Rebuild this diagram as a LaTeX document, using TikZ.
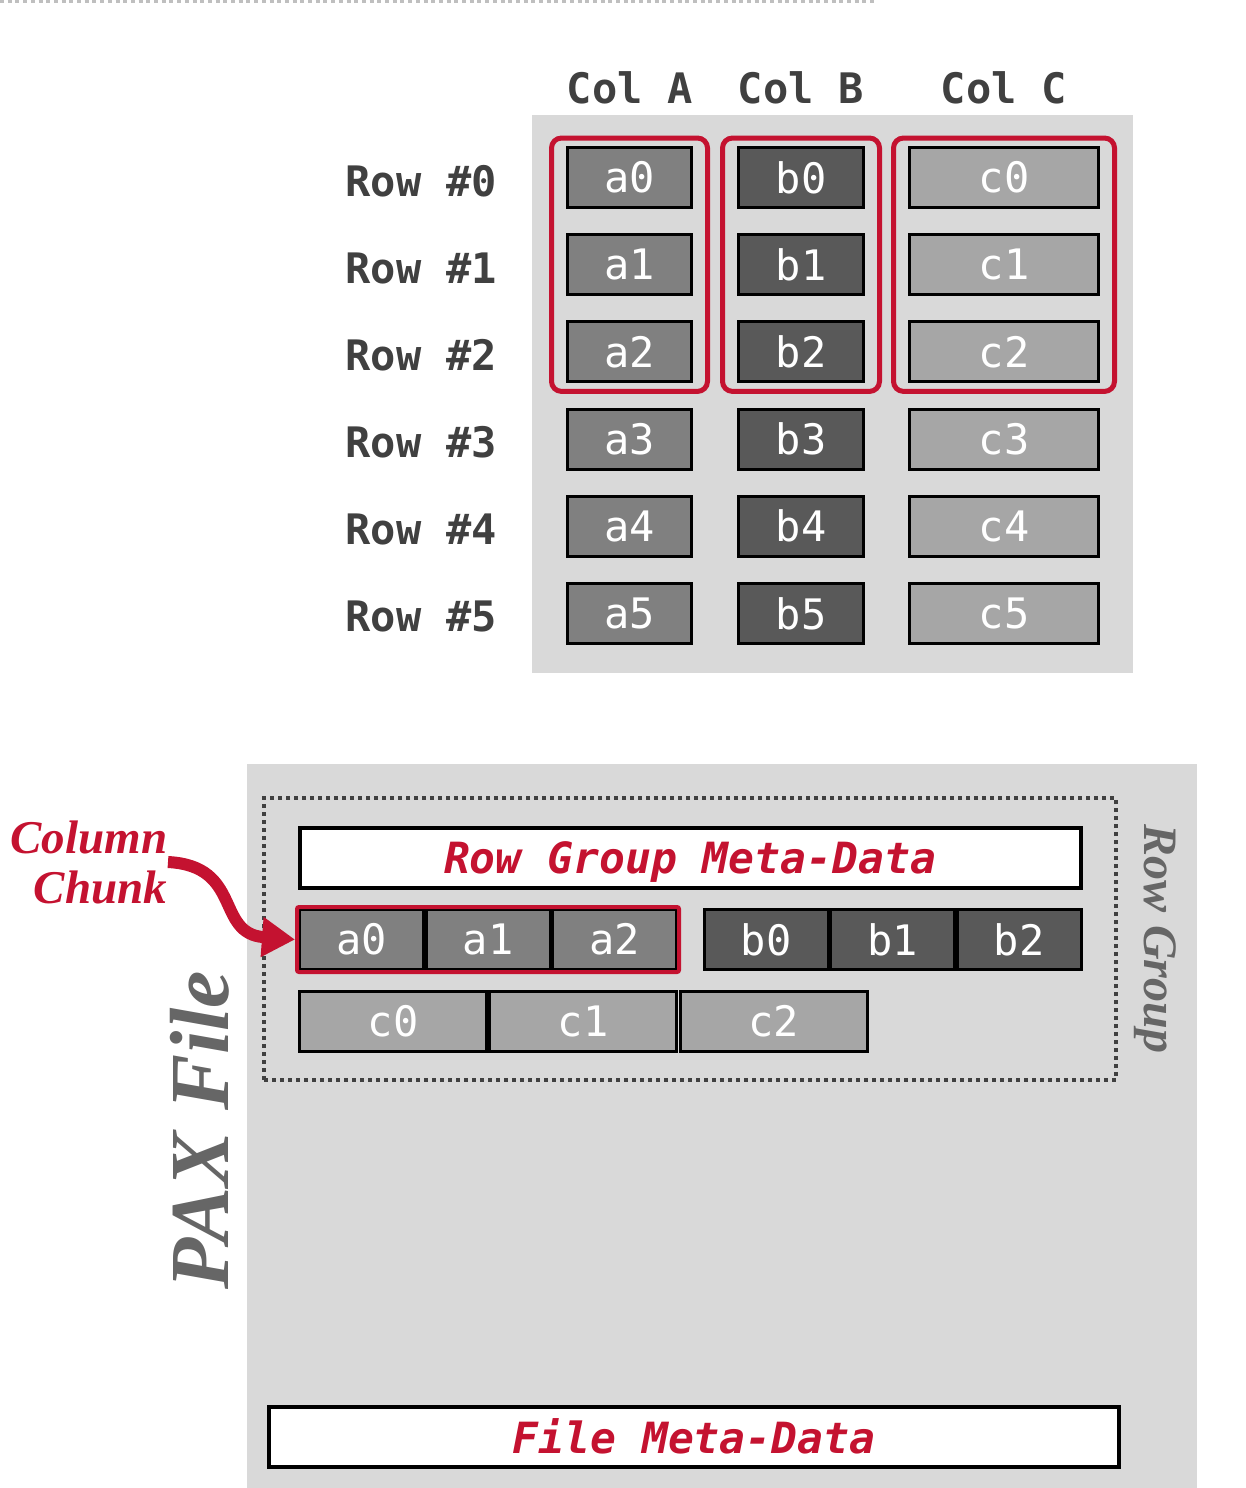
\documentclass[tikz,border=0pt]{standalone}
\usepackage{fontspec}
\setmonofont{DejaVu Sans Mono}
\newfontfamily\paxserif{Liberation Serif}
\usetikzlibrary{arrows.meta,fit}

\definecolor{cmured}{RGB}{196,18,48}
\definecolor{panelgray}{RGB}{217,217,217}
\definecolor{colagray}{RGB}{128,128,128}
\definecolor{colbgray}{RGB}{89,89,89}
\definecolor{colcgray}{RGB}{166,166,166}
\definecolor{labelgray}{RGB}{64,64,64}
\definecolor{titlegray}{RGB}{102,102,102}
\definecolor{dashgray}{RGB}{191,191,191}

\tikzset{every picture/.style={line width=0.75pt}}
\tikzset{
  cell/.style={draw=black, line width=1.5pt, minimum height=30pt, inner sep=0pt, text=white, font=\ttfamily\fontsize{21}{21}\selectfont},
  cellA/.style={cell, fill=colagray, minimum width=62pt},
  cellB/.style={cell, fill=colbgray, minimum width=62.5pt},
  cellC/.style={cell, fill=colcgray, minimum width=94.5pt},
  cellCwide/.style={cell, fill=colcgray, minimum width=93.5pt},
  rowlabel/.style={anchor=east, inner sep=0pt, text=labelgray, font=\ttfamily\bfseries\fontsize{21}{21}\selectfont},
  colgroup/.style={draw=cmured, line width=2.5pt, rounded corners=5pt, inner xsep=7.25pt, inner ysep=4pt},
  metabox/.style={draw=black, line width=2pt, fill=white, minimum height=30pt, inner sep=0pt, text depth=0pt, text=cmured, font=\ttfamily\bfseries\itshape\fontsize{21.5}{21.5}\selectfont},
  sidetitle/.style={inner sep=0pt, text=titlegray, font=\paxserif\bfseries\itshape},
}

\begin{document}
\begin{tikzpicture}[x=0.5pt,y=0.5pt,yscale=-1,xscale=1]
\useasboundingbox (0,0) rectangle (1246,1488);

%Straight Lines (top dashes)
\draw [dashgray, line width=1.5pt, dash pattern=on 2pt off 1.85pt] (0,1.5) -- (875,1.5) ;

%Shape: Rectangle (row store panel)
\fill [panelgray] (532,115) rectangle (1133,673) ;
%Shape: Rectangle (PAX file panel)
\fill [panelgray] (247,764) rectangle (1197,1488) ;

% Column headers
\node [rowlabel, anchor=center] (hdrA) at (630,88) {Col A};
\node [rowlabel, anchor=center] (hdrB) at (801,88) {Col B};
\node [rowlabel, anchor=center] (hdrC) at (1004,88) {Col C};

% Row labels
\node [rowlabel] (row0) at (498,181) {Row \#0};
\node [rowlabel] (row1) at (498,268) {Row \#1};
\node [rowlabel] (row2) at (498,355) {Row \#2};
\node [rowlabel] (row3) at (498,442) {Row \#3};
\node [rowlabel] (row4) at (498,529) {Row \#4};
\node [rowlabel] (row5) at (498,616) {Row \#5};

% Column A
\node [cellA] (ta0) at (629.5,177.5) {a0};
\node [cellA] (ta1) at (629.5,264.7) {a1};
\node [cellA] (ta2) at (629.5,351.9) {a2};
\node [cellA] (ta3) at (629.5,439.1) {a3};
\node [cellA] (ta4) at (629.5,526.3) {a4};
\node [cellA] (ta5) at (629.5,613.5) {a5};
% Column B
\node [cellB] (tb0) at (801,177.5) {b0};
\node [cellB] (tb1) at (801,264.7) {b1};
\node [cellB] (tb2) at (801,351.9) {b2};
\node [cellB] (tb3) at (801,439.1) {b3};
\node [cellB] (tb4) at (801,526.3) {b4};
\node [cellB] (tb5) at (801,613.5) {b5};
% Column C
\node [cellC] (tc0) at (1004,177.5) {c0};
\node [cellC] (tc1) at (1004,264.7) {c1};
\node [cellC] (tc2) at (1004,351.9) {c2};
\node [cellC] (tc3) at (1004,439.1) {c3};
\node [cellC] (tc4) at (1004,526.3) {c4};
\node [cellC] (tc5) at (1004,613.5) {c5};

% Row group outlines
\node [colgroup, fit=(ta0)(ta2)] (grpA) {};
\node [colgroup, fit=(tb0)(tb2)] (grpB) {};
\node [colgroup, fit=(tc0)(tc2)] (grpC) {};

% Row group meta-data
\node [metabox, minimum width=390.5pt] (rgmeta) at (690,857.5) {Row Group Meta-Data};

% Column chunks
\node [cellA] (pa0) at (361.5,939.5) {a0};
\node [cellA] (pa1) at (488,939.5) {a1};
\node [cellA] (pa2) at (614.5,939.5) {a2};
\node [cellA, fill=colbgray] (pb0) at (766,939.5) {b0};
\node [cellA, fill=colbgray] (pb1) at (892.5,939.5) {b1};
\node [cellA, fill=colbgray] (pb2) at (1019,939.5) {b2};
\node [cellCwide] (pc0) at (393,1021) {c0};
\node [cellCwide] (pc1) at (583,1021) {c1};
\node [cellCwide] (pc2) at (773.5,1021) {c2};

\node [draw=cmured, line width=2pt, rounded corners=1pt, inner sep=0.5pt, fit=(pa0)(pa2)] (achunk) {};

% Row group outline
\node [draw=labelgray, line width=2pt, dash pattern=on 2pt off 2pt, inner xsep=16.75pt, inner ysep=13.75pt, fit=(rgmeta)(pc0)(pb2)] (rowgroup) {};

% File meta-data
\node [metabox, minimum width=425pt] (filemeta) at (694,1436.5) {File Meta-Data};

% Text Node
\node [sidetitle, font=\paxserif\bfseries\itshape\fontsize{42}{42}\selectfont, rotate=90] (paxfile) at (200,1130) {PAX File};
% Text Node
\node [sidetitle, font=\paxserif\bfseries\itshape\fontsize{24}{24}\selectfont, rotate=-90] (rglabel) at (1155,939) {Row Group};
% Text Node
\node [inner sep=0pt, anchor=east, align=right, text=cmured, font=\paxserif\bfseries\itshape\fontsize{23.5}{25}\selectfont] (chunk) at (168,862) {Column\\Chunk};

%Curve Lines
\draw [cmured, line width=6pt, -{Triangle[length=16.5pt,width=19pt]}] (chunk.east) .. controls +(75,4) and +(-80,-6) .. (achunk.west) ;
\end{tikzpicture}
\end{document}
